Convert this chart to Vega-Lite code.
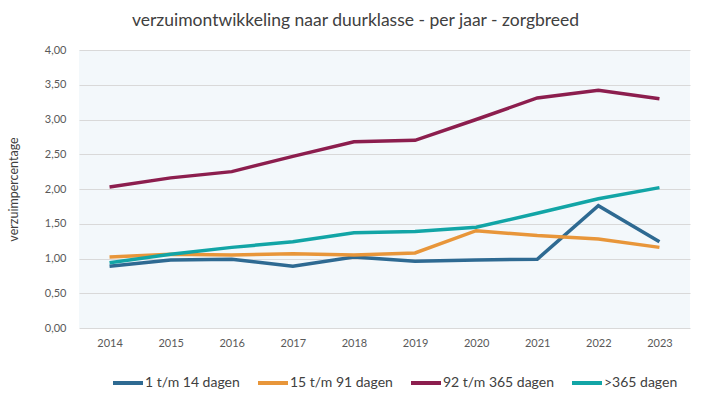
{
  "$schema": "https://vega.github.io/schema/vega-lite/v6.json",
  "autosize": "none",
  "width": 611,
  "height": 278,
  "padding": {"left": 79, "top": 50, "right": 20, "bottom": 74},
  "background": "#FFFFFF",
  "config": {
    "locale": {"number": {"decimal": ",", "thousands": ".", "grouping": [3], "currency": ["€", ""]}},
    "font": "Lato",
    "view": {"fill": "#F3F8FB", "stroke": null},
    "axis": {"labelColor": "#595959", "labelFontSize": 11, "titleColor": "#404040", "titleFont": "Lato", "labelFont": "Lato"}
  },
  "title": {
    "text": "verzuimontwikkeling naar duurklasse - per jaar - zorgbreed",
    "fontSize": 17.5,
    "fontWeight": "normal",
    "color": "#404040",
    "font": "Lato",
    "anchor": "middle",
    "dx": -29,
    "offset": 15
  },
  "data": {
    "values": [
      {"jaar": "2014", "klasse": "1 t/m 14 dagen", "waarde": 0.89},
      {"jaar": "2015", "klasse": "1 t/m 14 dagen", "waarde": 0.98},
      {"jaar": "2016", "klasse": "1 t/m 14 dagen", "waarde": 0.99},
      {"jaar": "2017", "klasse": "1 t/m 14 dagen", "waarde": 0.89},
      {"jaar": "2018", "klasse": "1 t/m 14 dagen", "waarde": 1.02},
      {"jaar": "2019", "klasse": "1 t/m 14 dagen", "waarde": 0.96},
      {"jaar": "2020", "klasse": "1 t/m 14 dagen", "waarde": 0.98},
      {"jaar": "2021", "klasse": "1 t/m 14 dagen", "waarde": 0.99},
      {"jaar": "2022", "klasse": "1 t/m 14 dagen", "waarde": 1.76},
      {"jaar": "2023", "klasse": "1 t/m 14 dagen", "waarde": 1.24},
      {"jaar": "2014", "klasse": "15 t/m 91 dagen", "waarde": 1.02},
      {"jaar": "2015", "klasse": "15 t/m 91 dagen", "waarde": 1.06},
      {"jaar": "2016", "klasse": "15 t/m 91 dagen", "waarde": 1.05},
      {"jaar": "2017", "klasse": "15 t/m 91 dagen", "waarde": 1.07},
      {"jaar": "2018", "klasse": "15 t/m 91 dagen", "waarde": 1.05},
      {"jaar": "2019", "klasse": "15 t/m 91 dagen", "waarde": 1.08},
      {"jaar": "2020", "klasse": "15 t/m 91 dagen", "waarde": 1.40},
      {"jaar": "2021", "klasse": "15 t/m 91 dagen", "waarde": 1.33},
      {"jaar": "2022", "klasse": "15 t/m 91 dagen", "waarde": 1.28},
      {"jaar": "2023", "klasse": "15 t/m 91 dagen", "waarde": 1.16},
      {"jaar": "2014", "klasse": "92 t/m 365 dagen", "waarde": 2.03},
      {"jaar": "2015", "klasse": "92 t/m 365 dagen", "waarde": 2.16},
      {"jaar": "2016", "klasse": "92 t/m 365 dagen", "waarde": 2.25},
      {"jaar": "2017", "klasse": "92 t/m 365 dagen", "waarde": 2.47},
      {"jaar": "2018", "klasse": "92 t/m 365 dagen", "waarde": 2.68},
      {"jaar": "2019", "klasse": "92 t/m 365 dagen", "waarde": 2.70},
      {"jaar": "2020", "klasse": "92 t/m 365 dagen", "waarde": 3.00},
      {"jaar": "2021", "klasse": "92 t/m 365 dagen", "waarde": 3.31},
      {"jaar": "2022", "klasse": "92 t/m 365 dagen", "waarde": 3.42},
      {"jaar": "2023", "klasse": "92 t/m 365 dagen", "waarde": 3.30},
      {"jaar": "2014", "klasse": ">365 dagen", "waarde": 0.94},
      {"jaar": "2015", "klasse": ">365 dagen", "waarde": 1.06},
      {"jaar": "2016", "klasse": ">365 dagen", "waarde": 1.16},
      {"jaar": "2017", "klasse": ">365 dagen", "waarde": 1.24},
      {"jaar": "2018", "klasse": ">365 dagen", "waarde": 1.37},
      {"jaar": "2019", "klasse": ">365 dagen", "waarde": 1.39},
      {"jaar": "2020", "klasse": ">365 dagen", "waarde": 1.45},
      {"jaar": "2021", "klasse": ">365 dagen", "waarde": 1.65},
      {"jaar": "2022", "klasse": ">365 dagen", "waarde": 1.86},
      {"jaar": "2023", "klasse": ">365 dagen", "waarde": 2.02}
    ]
  },
  "mark": {"type": "line", "strokeWidth": 3.5},
  "encoding": {
    "x": {
      "field": "jaar",
      "type": "ordinal",
      "scale": {"type": "point", "padding": 0.5},
      "axis": {"title": null, "labelAngle": 0, "domain": false, "ticks": false, "labelPadding": 9, "grid": false}
    },
    "y": {
      "field": "waarde",
      "type": "quantitative",
      "scale": {"domain": [0, 4], "nice": false},
      "axis": {
        "title": "verzuimpercentage",
        "titleFontSize": 12.5,
        "titleFontWeight": "normal",
        "titleX": -66,
        "titleY": 139,
        "titleAngle": -90,
        "titleAlign": "center",
        "titleBaseline": "middle",
        "values": [0, 0.5, 1, 1.5, 2, 2.5, 3, 3.5, 4],
        "format": ".2f",
        "domain": false,
        "ticks": false,
        "labelPadding": 13,
        "gridColor": "#D9D9D9",
        "gridWidth": 1.2
      }
    },
    "color": {
      "field": "klasse",
      "type": "nominal",
      "sort": ["1 t/m 14 dagen", "15 t/m 91 dagen", "92 t/m 365 dagen", ">365 dagen"],
      "scale": {
        "domain": ["1 t/m 14 dagen", "15 t/m 91 dagen", "92 t/m 365 dagen", ">365 dagen"],
        "range": ["#2E6A92", "#E8963A", "#8C1E4E", "#12A5A6"]
      },
      "legend": {
        "title": null,
        "orient": "none",
        "legendX": 32,
        "legendY": 316,
        "direction": "horizontal",
        "symbolType": "stroke",
        "symbolSize": 900,
        "symbolStrokeWidth": 4,
        "labelFontSize": 14,
        "labelColor": "#404040",
        "labelFont": "Lato",
        "labelOffset": 0,
        "columnPadding": 10,
        "labelLimit": 200
      }
    }
  }
}
